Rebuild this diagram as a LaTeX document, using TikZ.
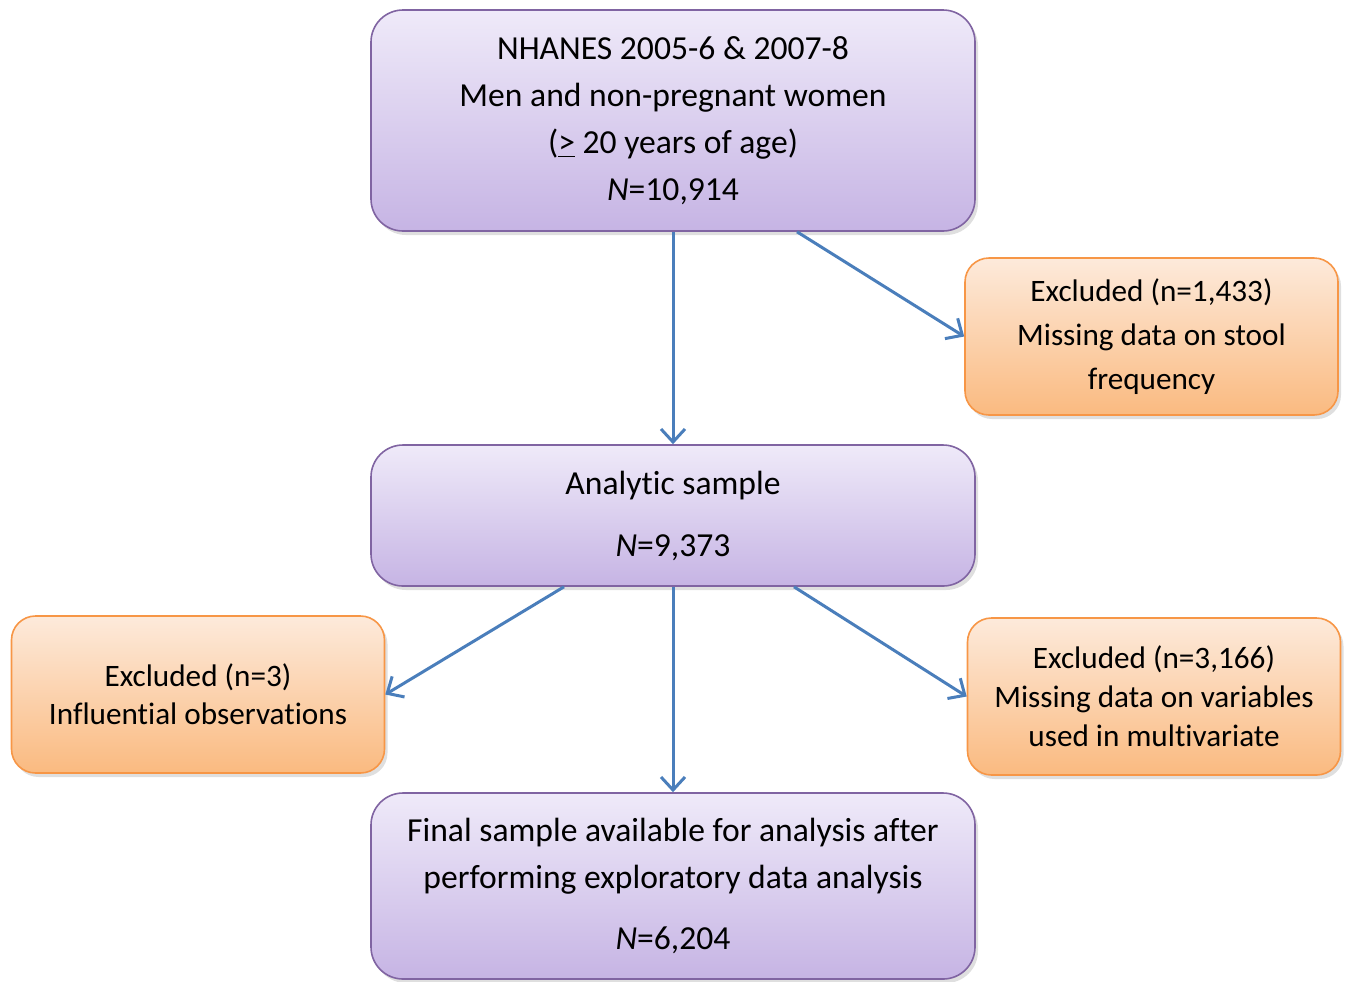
\documentclass[tikz,border=0pt]{standalone}
\usepackage{fontspec}
\setmainfont{Carlito}[RawFeature=-liga]
\usetikzlibrary{arrows.meta,shadows}
\definecolor{lilactop}{RGB}{239,234,249}
\definecolor{lilacbot}{RGB}{198,180,228}
\definecolor{violetline}{RGB}{128,100,162}
\definecolor{peachtop}{RGB}{253,234,219}
\definecolor{peachbot}{RGB}{250,186,128}
\definecolor{orangeline}{RGB}{247,150,70}
\definecolor{arrowblue}{RGB}{74,126,187}

\begin{document}
\begin{tikzpicture}[x=0.5pt,y=-0.5pt,
  box/.style={draw, line width=0.8pt, align=center, font=\fontsize{16.8}{23.5}\selectfont,
    drop shadow={shadow xshift=1.5pt, shadow yshift=-2pt, opacity=0.25}},
  sample/.style={box, rounded corners=16pt, draw=violetline, top color=lilactop, bottom color=lilacbot, minimum width=302pt},
  excluded/.style={box, rounded corners=12pt, draw=orangeline, top color=peachtop, bottom color=peachbot, minimum width=186.5pt, minimum height=78.5pt},
  flow/.style={draw=arrowblue, line width=1.5pt, -{Straight Barb[length=6.5pt,width=12pt,line width=1.5pt]}}]
\useasboundingbox (0,0) rectangle (1347,981);

\node [sample, minimum height=110.5pt] (nhanes) at (673,120.5)
  {NHANES 2005-6 \& 2007-8\\Men and non-pregnant women\\(\underline{>} 20 years of age)\\\textit{N}=10,914};
\node [sample, minimum height=70.5pt] (analytic) at (673,515.5)
  {Analytic sample\\[7.5pt]\textit{N}=9,373};
\node [sample, minimum height=93pt] (final) at (673,886)
  {Final sample available for analysis after\\performing exploratory data analysis\\[7pt]\textit{N}=6,204};

\node [excluded, font=\fontsize{15.6}{22}\selectfont] (stool) at (1151.5,336.5)
  {Excluded (n=1,433)\\Missing data on stool\\frequency};
\node [excluded, font=\fontsize{15.6}{19}\selectfont] (influential) at (198,694.5)
  {Excluded (n=3)\\Influential observations};
\node [excluded, font=\fontsize{15.6}{19.5}\selectfont] (covariates) at (1154,696.5)
  {Excluded (n=3,166)\\Missing data on variables\\used in multivariate};

\draw [flow] (nhanes.south) -- (analytic.north);
\draw [flow] ([xshift=62pt]nhanes.south) -- (stool.west);
\draw [flow] ([xshift=-54.5pt]analytic.south) -- (influential.east);
\draw [flow] (analytic.south) -- (final.north);
\draw [flow] ([xshift=60.5pt]analytic.south) -- (covariates.west);
\end{tikzpicture}
\end{document}
